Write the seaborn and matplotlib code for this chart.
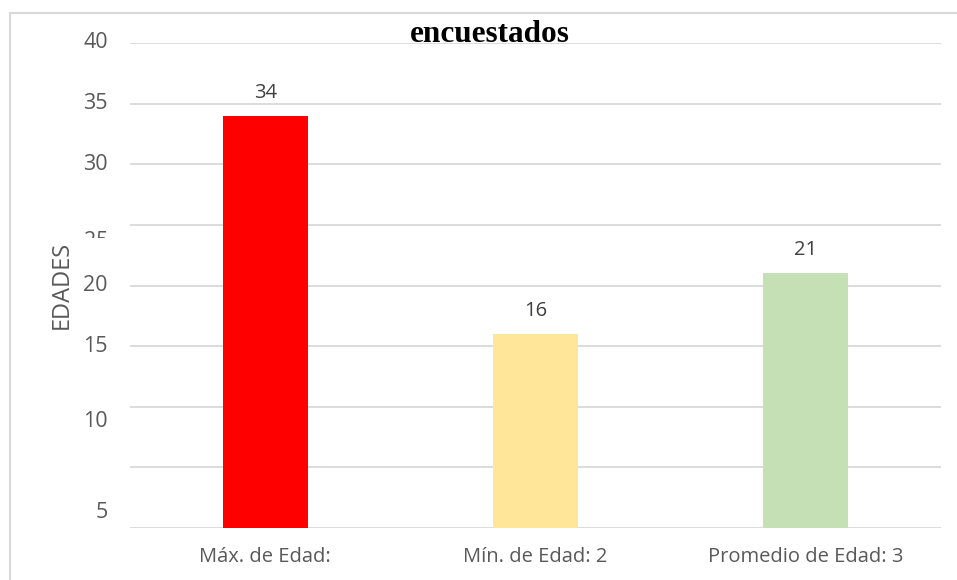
import matplotlib
matplotlib.use("Agg")
import matplotlib.pyplot as plt
import seaborn as sns
import pandas as pd
from matplotlib.patches import Rectangle

categories = ["Máx. de Edad:", "Mín. de Edad: 2", "Promedio de Edad: 3"]
values = [34, 16, 21]
colors = ["#FF0000", "#FFE699", "#C5E0B4"]
grid_values = [0, 5, 10, 15, 20, 25, 30, 35, 40]
tick_labels = ["40", "35", "30", "25", "20", "15", "10", "5"]
tick_label_pos = [40, 35, 30, 23.6, 20, 15, 8.78, 1.28]

df = pd.DataFrame({"cat": categories, "val": values})

sns.set_theme(style="white")
plt.rcParams['font.family'] = ['Open Sans', 'DejaVu Sans']

fig = plt.figure(figsize=(9.57, 5.80), dpi=100)
ax = fig.add_axes([130/957, 52/580, 811/957, 485/580])

sns.barplot(data=df, x="cat", y="val", hue="cat", palette=colors,
            width=0.315, legend=False, ax=ax, saturation=1, linewidth=0)

ax.set_ylim(0, 40)
ax.set_xlim(-0.5, 2.5)
for g in grid_values:
    ax.axhline(g, color="#d9d9d9", lw=1.3, zorder=0)
for s in ax.spines.values():
    s.set_visible(False)

ax.set_yticks([])
ytrans = ax.get_yaxis_transform()
for lab, pos in zip(tick_labels, tick_label_pos):
    ax.text(-22/811, pos, lab, ha="right", va="center", fontsize=15.5,
            color="#595959", transform=ytrans, clip_on=False)

ax.set_xlabel("")
ax.set_ylabel("")
fig.text(62/957, 1 - 285/580, "EDADES", rotation=90, ha="center", va="center",
         fontsize=17, color="#595959")
ax.tick_params(axis="x", length=0, labelsize=14.5, labelcolor="#595959", pad=14)

for i, v in enumerate(values):
    ax.text(i, v + 1.9, str(v), ha="center", va="center",
            fontsize=14.5, color="#404040")

# white patch partially hiding the "25" label (as in the reference)
fig.patches.append(Rectangle((76/957, 1 - 252/580), 44/957, 14/580,
                             transform=fig.transFigure, facecolor="white",
                             edgecolor="none", zorder=5))

fig.text(490/957, 1 - 34/580, "encuestados", ha="center", va="center",
         fontsize=22.5, fontweight="bold", family="Liberation Serif", color="black")

# outer chart border
fig.patches.append(Rectangle((9.5/957, -0.1), 1.2, 1 - 13/580 + 0.1,
                             transform=fig.transFigure, facecolor="none",
                             edgecolor="#d9d9d9", lw=1.5, zorder=0))

fig.savefig("out.png", dpi=100, facecolor="white")
